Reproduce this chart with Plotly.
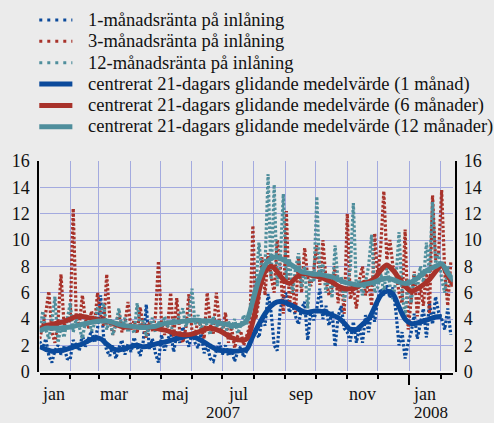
import pandas as pd
import plotly.graph_objects as go

# ---------------- data ----------------
DOT_START = "2007-01-02"   # dotted series sampled every 3 days
MA_START = "2007-01-02"    # moving averages sampled every 6 days

rate_1m = [2.3, 1.8, 2.5, 1.2, 0.7, 1.6, 2.0, 1.3, 1.9, 1.0,
           0.9, 2.4, 2.0, 1.6, 2.8, 1.9, 2.5, 3.1, 2.2, 3.3,
           5.8, 2.6, 1.6, 1.2, 2.0, 1.0, 1.8, 2.4, 1.3, 2.1,
           1.5, 2.6, 1.9, 1.2, 2.3, 5.1, 1.7, 2.5, 1.4, 0.7,
           2.8, 1.6, 2.4, 3.0, 1.5, 2.9, 2.2, 3.4, 2.6, 1.9,
           3.0, 2.2, 1.8, 2.9, 1.4, 2.0, 1.0, 0.8, 1.6, 2.2,
           1.3, 2.0, 1.2, 1.7, 0.8, 1.5, 1.9, 1.1, 1.6, 2.3, 2.8,
           3.0, 2.6, 4.0, 3.5, 5.9, 4.5, 2.0, 1.6, 4.8, 5.6,
           6.0, 4.5, 5.2, 4.2, 3.6, 4.8, 5.3, 2.4, 4.6, 3.9,
           4.8, 6.3, 4.0, 5.0, 3.5, 4.6, 1.9, 4.2, 5.0, 3.3,
           3.0, 2.3, 3.8, 2.2, 3.5, 2.2, 4.3, 3.0, 4.6, 3.8,
           5.5, 6.3, 5.8, 6.6, 5.6, 6.4, 4.5, 2.0, 3.0, 1.0, 2.2,
           3.0, 4.4, 2.5, 3.8, 4.8, 2.6, 5.2, 3.6, 5.7, 4.5,
           4.0, 3.2, 4.8, 2.8]

rate_3m = [2.5, 3.4, 4.5, 6.1, 3.0, 2.2, 3.8, 7.4, 3.5, 4.0,
           3.8, 12.4, 4.2, 3.5, 5.8, 4.0, 3.3, 4.6, 3.6, 6.0,
           4.3, 3.5, 7.4, 4.1, 2.8, 3.6, 4.4, 3.0, 3.7, 5.3,
           3.2, 3.9, 2.9, 4.9, 3.4, 2.6, 3.8, 3.1, 4.2, 8.4,
           3.7, 2.8, 3.5, 6.0, 2.6, 5.6, 3.0, 2.2, 3.3, 5.9,
           3.1, 2.7, 4.0, 3.4, 2.5, 6.0, 3.6, 2.9, 6.0, 3.8,
           3.0, 4.5, 2.2, 3.4, 1.8, 2.7, 3.1, 2.0, 2.8, 3.5, 11.1,
           4.0, 5.5, 8.7, 5.8, 9.0, 7.2, 6.0, 10.0, 8.0, 4.4,
           12.2, 5.0, 6.8, 4.5, 8.7, 6.0, 9.4, 7.2, 6.5, 7.8,
           9.6, 6.6, 10.0, 7.0, 5.8, 6.4, 8.0, 5.2, 7.0, 4.4,
           12.0, 5.5, 6.3, 4.8, 7.0, 8.0, 5.8, 6.8, 5.0, 10.5,
           7.2, 9.5, 13.7, 8.5, 10.0, 8.0, 7.5, 6.0, 5.2, 10.8, 3.2,
           5.5, 7.6, 4.2, 6.5, 5.0, 7.8, 4.4, 13.4, 8.5, 9.0,
           13.8, 7.5, 5.0, 8.3]

rate_12m = [3.0, 4.6, 3.2, 2.5, 3.8, 5.7, 2.2, 3.4, 2.6, 3.9,
            5.2, 3.0, 4.0, 3.4, 2.5, 3.8, 4.2, 3.1, 3.6, 4.9,
            4.4, 5.2, 3.2, 4.0, 2.8, 3.6, 4.8, 3.3, 4.1, 3.0,
            3.6, 2.9, 5.2, 3.4, 3.9, 2.7, 3.5, 4.1, 3.0, 3.8,
            3.2, 4.2, 3.5, 2.9, 4.0, 3.6, 4.4, 4.8, 3.4, 4.2,
            6.3, 3.6, 4.3, 3.2, 4.0, 3.5, 2.8, 4.2, 3.3, 3.9,
            3.4, 2.8, 3.8, 3.2, 4.0, 2.9, 3.5, 4.3, 3.6, 4.8, 5.8,
            6.5, 9.8, 7.5, 8.0, 15.0, 7.0, 14.2, 6.5, 8.5, 13.5,
            7.0, 8.6, 6.0, 7.8, 9.0, 6.4, 8.0, 4.8, 7.6, 6.8,
            13.3, 7.0, 8.2, 6.0, 7.4, 5.6, 9.6, 6.8, 7.2, 5.4,
            6.6, 7.8, 12.8, 6.2, 7.0, 5.8, 6.8, 8.0, 10.4, 6.0,
            6.4, 7.5, 6.0, 8.0, 6.6, 5.5, 7.0, 10.6, 6.0, 4.2, 7.0,
            5.2, 7.4, 6.2, 8.0, 6.8, 9.8, 7.5, 12.9, 8.2, 9.0,
            7.0, 6.0, 8.0, 6.5]

ma_1m = [1.9, 1.7, 1.55, 1.6, 1.65, 1.8, 1.95, 2.1, 2.35, 2.55,
         2.5, 2.1, 1.75, 1.65, 1.75, 1.9, 2.0, 1.9, 1.95, 2.1,
         2.2, 2.3, 2.45, 2.55, 2.7, 2.7, 2.5, 2.25, 1.95, 1.7,
         1.6, 1.6, 1.55, 1.6, 1.7, 2.7, 3.6, 4.4, 5.0, 5.3,
         5.3, 5.1, 4.9, 4.6, 4.5, 4.6, 4.6, 4.5, 4.3, 4.1,
         3.7, 3.2, 3.2, 3.6, 4.0, 4.9, 5.8, 6.1, 5.9, 4.9,
         4.0, 3.65, 3.7, 3.85, 4.0, 4.15, 4.2]

ma_6m = [3.2, 3.5, 3.6, 3.7, 3.8, 4.0, 4.2, 4.2, 4.1, 4.0,
         3.9, 3.8, 3.7, 3.5, 3.4, 3.4, 3.4, 3.4, 3.4, 3.3,
         3.2, 3.1, 2.95, 2.85, 2.8, 2.85, 3.0, 3.2, 3.3, 3.2,
         3.0, 2.7, 2.5, 2.4, 2.5, 3.8, 6.1, 7.6, 8.0, 7.6,
         7.0, 6.7, 7.1, 7.45, 7.4, 7.3, 7.2, 7.0, 6.8, 6.5,
         6.3, 6.3, 6.4, 6.7, 6.8, 7.1, 7.7, 8.1, 7.7, 7.1,
         6.5, 6.1, 6.3, 6.6, 7.0, 7.6, 8.1, 7.3, 6.5]

ma_12m = [3.1, 3.3, 3.3, 3.3, 3.35, 3.4, 3.5, 3.6, 3.7, 3.8,
          3.85, 3.85, 3.75, 3.6, 3.5, 3.45, 3.4, 3.35, 3.4, 3.45,
          3.6, 3.7, 3.75, 3.8, 3.85, 3.9, 3.9, 3.85, 3.85, 3.75,
          3.65, 3.55, 3.5, 3.55, 3.9, 5.4, 7.0, 8.1, 8.6, 8.7,
          8.5, 8.2, 7.9, 7.6, 7.5, 7.4, 7.4, 7.3, 7.2, 7.0,
          6.8, 6.7, 6.6, 6.6, 6.7, 6.8, 7.0, 7.1, 7.0, 6.8,
          6.7, 6.8, 7.1, 7.5, 7.8, 8.0, 8.2, 7.5, 6.9]

names = ["1-månadsränta på inlåning",
         "3-månadsränta på inlåning",
         "12-månadsränta på inlåning",
         "centrerat 21-dagars glidande medelvärde (1 månad)",
         "centrerat 21-dagars glidande medelvärde (6 månader)",
         "centrerat 21-dagars glidande medelvärde (12 månader)"]

month_labels = ["jan", "mar", "maj", "jul", "sep", "nov", "jan"]
month_label_dates = ["2007-01-16", "2007-03-16", "2007-05-16", "2007-07-16",
                     "2007-09-16", "2007-11-16", "2008-01-16"]
year_labels = ["2007", "2008"]
year_label_dates = ["2007-07-02", "2008-01-22"]
y_ticks = list(range(0, 17, 2))

# ---------------- styling ----------------
BLUE = "#0b4a9b"
RED = "#a8322a"
TEAL = "#4f8e9c"
BG = "#ebebeb"
GRID = "#a3aadf"
FONT = "Liberation Serif"

W, H = 494, 423
ML, MR, MT, MB = 30, 24, 150, 45
PW, PH = W - ML - MR, H - MT - MB


def fx(p):
    return (p - ML) / PW


def fy(p):
    return (H - MB - p) / PH


dot_dates = pd.date_range(DOT_START, periods=len(rate_1m), freq="3D")
ma_dates_1 = pd.date_range(MA_START, periods=len(ma_1m), freq="6D")
ma_dates_6 = pd.date_range(MA_START, periods=len(ma_6m), freq="6D")
ma_dates_12 = pd.date_range(MA_START, periods=len(ma_12m), freq="6D")

DOTDASH = "2.5px,2px"
fig = go.Figure()
fig.add_trace(go.Scatter(x=dot_dates, y=rate_1m, mode="lines", name=names[0],
                         line=dict(color=BLUE, width=3.2, dash=DOTDASH)))
fig.add_trace(go.Scatter(x=dot_dates, y=rate_3m, mode="lines", name=names[1],
                         line=dict(color=RED, width=3.2, dash=DOTDASH)))
fig.add_trace(go.Scatter(x=dot_dates, y=rate_12m, mode="lines", name=names[2],
                         line=dict(color=TEAL, width=3.2, dash=DOTDASH)))
fig.add_trace(go.Scatter(x=ma_dates_1, y=ma_1m, mode="lines", name=names[3],
                         line=dict(color=BLUE, width=5, shape="spline", smoothing=0.8)))
fig.add_trace(go.Scatter(x=ma_dates_6, y=ma_6m, mode="lines", name=names[4],
                         line=dict(color=RED, width=5, shape="spline", smoothing=0.8)))
fig.add_trace(go.Scatter(x=ma_dates_12, y=ma_12m, mode="lines", name=names[5],
                         yaxis="y2",
                         line=dict(color=TEAL, width=5, shape="spline", smoothing=0.8)))

# ---------------- manual legend ----------------
shapes = []
annotations = []
leg_colors = [BLUE, RED, TEAL, BLUE, RED, TEAL]
for i, nm in enumerate(names):
    yy = fy(20 + 21.35 * i)
    dotted = i < 3
    shapes.append(dict(type="line", xref="paper", yref="paper",
                       x0=fx(35.5), x1=fx(70), y0=yy, y1=yy,
                       line=dict(color=leg_colors[i], width=3 if dotted else 5,
                                 dash="3px,5px" if dotted else "solid")))
    annotations.append(dict(text=nm, xref="paper", yref="paper", x=fx(84), y=yy,
                            xanchor="left", yanchor="middle", showarrow=False,
                            font=dict(family=FONT, size=18.5, color="#111")))

for lab, d in zip(month_labels, month_label_dates):
    annotations.append(dict(text=lab, xref="x", yref="paper", x=d, y=fy(393.5),
                            xanchor="center", yanchor="middle", showarrow=False,
                            font=dict(family=FONT, size=18, color="#111")))
for lab, d in zip(year_labels, year_label_dates):
    annotations.append(dict(text=lab, xref="x", yref="paper", x=d, y=fy(412.5),
                            xanchor="center", yanchor="middle", showarrow=False,
                            font=dict(family=FONT, size=17, color="#111")))

yaxis_common = dict(range=[0, 16], tickmode="array", tickvals=y_ticks,
                    ticks="", showline=True, linecolor="black", linewidth=1.5,
                    tickfont=dict(family=FONT, size=18, color="#111"),
                    ticklabelstandoff=4, fixedrange=True)

fig.update_layout(
    width=W, height=H,
    margin=dict(l=ML, r=MR, t=MT, b=MB, pad=0),
    paper_bgcolor=BG, plot_bgcolor=BG,
    showlegend=False,
    shapes=shapes, annotations=annotations,
    xaxis=dict(type="date", range=["2007-01-02 01:00", "2008-02-13"],
               domain=[fx(36), fx(466.7)], anchor="free", position=fy(374),
               tickmode="array", tickvals=["2008-01-01"], showticklabels=False,
               ticks="outside", ticklen=10, tickcolor="black", tickwidth=1.5,
               showline=True, linecolor="black", linewidth=1.5,
               showgrid=True, gridcolor=GRID, gridwidth=1,
               minor=dict(dtick="M1", tick0="2007-01-01", ticks="outside",
                          ticklen=4, tickcolor="black", tickwidth=1.5,
                          showgrid=True, gridcolor=GRID, gridwidth=1),
               zeroline=False, fixedrange=True),
    yaxis=dict(domain=[fy(371.7), fy(161)], anchor="free", position=fx(34.3),
               side="left", showgrid=True, gridcolor=GRID, gridwidth=1,
               zeroline=True, zerolinecolor="#f7f7f7", zerolinewidth=2,
               **yaxis_common),
    yaxis2=dict(overlaying="y", anchor="free", position=fx(469.5), side="right",
                showgrid=False, zeroline=False, **yaxis_common),
)

fig.write_html("out.html",
               config={"displayModeBar": False},
               post_script="document.body.style.margin='0px';"
                           "document.body.style.overflow='hidden';")
